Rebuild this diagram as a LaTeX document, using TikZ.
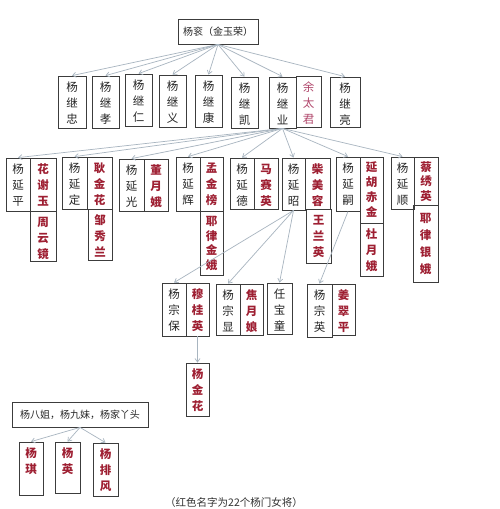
\documentclass[tikz,border=0pt]{standalone}
\usepackage{fontspec}
\setmainfont{Noto Sans CJK SC}
\usetikzlibrary{arrows.meta}
\definecolor{redn}{HTML}{9E1F32}
\definecolor{redl}{HTML}{B0456A}
\definecolor{linec}{HTML}{A8B5C0}
\definecolor{boxc}{HTML}{3C3C3C}
\newcommand{\vtxt}[5]{\parbox[c][#1pt][t]{#2pt}{\centering\baselineskip=#4pt\rule{0pt}{#5pt}#3\par}}
\newcommand{\vb}[7]{\node[bx,#7] (#1) at (#2,#3) {\vtxt{#5}{#4}{#6}{16}{15}};}
\newcommand{\vbt}[9]{\node[bx,#7] (#1) at (#2,#3) {\vtxt{#5}{#4}{#6}{#8}{#9}};}
\begin{document}
\begin{tikzpicture}[x=1pt,y=-1pt,
 bx/.style={draw=boxc,line width=0.8pt,inner sep=0pt,font=\fontsize{11.5}{16}\selectfont},
 blk/.style={text=black!85},
 rd/.style={text=redn,font=\fontsize{11.5}{16}\selectfont\bfseries},
 rdl/.style={text=redl},
 arr/.style={draw=linec,line width=0.7pt,-{Straight Barb[length=3.5pt,width=5pt]}}]
\useasboundingbox[fill=white] (0,0) rectangle (500,509);
% root
\node[bx,blk,minimum width=80pt,minimum height=25pt,font=\fontsize{10}{12}\selectfont] (root) at (218,31.5) {杨衮（金玉荣）};
% row 1
\vb{jz}{72}{102}{28}{52}{杨\\继\\忠}{blk}
\vb{jx}{105.5}{102}{27}{52}{杨\\继\\孝}{blk}
\vb{jr}{138.5}{100}{27}{52}{杨\\继\\仁}{blk}
\vb{jy}{172.5}{101}{27}{52}{杨\\继\\义}{blk}
\vb{jk}{208.5}{101}{27}{52}{杨\\继\\康}{blk}
\vb{jkai}{244.5}{102.5}{27}{51}{杨\\继\\凯}{blk}
\vb{jye}{282.5}{102.5}{27}{51}{杨\\继\\业}{blk}
\vb{she}{308.5}{101.5}{25}{51}{余\\太\\君}{rdl}
\vb{jl}{345}{102}{30}{50}{杨\\继\\亮}{blk}
% row 2
\vb{yp}{18}{184.5}{24}{53}{杨\\延\\平}{blk}
\vb{hxy}{43}{184.5}{26}{53}{花\\谢\\玉}{rd}
\vb{zyj}{43}{236}{26}{50}{周\\云\\镜}{rd}
\vb{yd}{74.5}{183}{25}{52}{杨\\延\\定}{blk}
\vb{gjh}{99.5}{183}{25}{52}{耿\\金\\花}{rd}
\vb{zxl}{100}{234.5}{24}{51}{邹\\秀\\兰}{rd}
\vb{yg}{131.5}{185}{25}{52}{杨\\延\\光}{blk}
\vb{dye}{156}{185}{24}{52}{董\\月\\娥}{rd}
\vb{yh}{188}{184}{24}{54}{杨\\延\\辉}{blk}
\vb{mjb}{211.5}{184}{23}{54}{孟\\金\\榜}{rd}
\vbt{ylje}{211.5}{243}{23}{64}{耶\\律\\金\\娥}{rd}{14.5}{14.5}
\vb{yde}{242}{183.5}{24}{51}{杨\\延\\德}{blk}
\vb{msy}{266}{183.5}{24}{51}{马\\赛\\英}{rd}
\vb{yz}{293.5}{184}{23}{52}{杨\\延\\昭}{blk}
\vb{cmr}{317.5}{183.5}{25}{51}{柴\\美\\容}{rd}
\vb{wly}{318.5}{236}{25}{54}{王\\兰\\英}{rd}
\vb{ys}{348}{184}{24}{54}{杨\\延\\嗣}{blk}
\vbt{yhcj}{371.5}{190}{23}{66}{延\\胡\\赤\\金}{rd}{15}{14.5}
\vb{dyue}{371.5}{249.5}{23}{53}{杜\\月\\娥}{rd}
\vb{ysh}{402.5}{183}{23}{52}{杨\\延\\顺}{blk}
\vbt{cxy}{426}{181}{24}{48}{蔡\\绣\\英}{rd}{14.5}{14}
\vbt{ylye}{425.5}{243.5}{25}{77}{耶\\律\\银\\娥}{rd}{17}{17}
% row 3
\vb{zb}{174}{309.5}{24}{53}{杨\\宗\\保}{blk}
\vb{mgy}{197.5}{309.5}{23}{53}{穆\\桂\\英}{rd}
\vb{jh}{197.5}{389.5}{23}{53}{杨\\金\\花}{rd}
\vb{zx}{228}{309.5}{24}{51}{杨\\宗\\显}{blk}
\vb{jyn}{251.5}{309.5}{23}{51}{焦\\月\\娘}{rd}
\vb{rbt}{279.5}{308.5}{25}{51}{任\\宝\\童}{blk}
\vb{zy}{319.5}{310.5}{25}{53}{杨\\宗\\英}{blk}
\vb{jcp}{343.5}{309.5}{23}{51}{姜\\翠\\平}{rd}
% bottom group
\node[bx,blk,minimum width=136pt,minimum height=25pt,font=\fontsize{10}{12}\selectfont] (bj) at (80,414.5) {杨八姐，杨九妹，杨家丫头};
\vb{yq}{31}{468.5}{24}{53}{杨\\琪}{rd}
\vb{yy}{67.5}{467.5}{25}{51}{杨\\英}{rd}
\vb{ypf}{105.5}{469.5}{25}{53}{杨\\排\\风}{rd}
% caption
\node[anchor=base,inner sep=0pt,font=\fontsize{10.5}{13}\selectfont,text=black!80] (cap) at (234,506) {（红色名字为22个杨门女将）};
% connectors
\foreach \t in {jz,jx,jr,jy,jk,jkai,jye,jl} \draw[arr] (root.south) -- (\t.north);
\foreach \t in {yp,yd,yg,yh,yde,yz,ys,ysh} \draw[arr] (jye.south) -- (\t.north);
\foreach \t in {zb,zx,rbt} \draw[arr] (yz.south) -- (\t.north);
\draw[arr] (ys.south) -- (zy.north);
\draw[arr] (mgy.south) -- (jh.north);
\foreach \t in {yq,yy,ypf} \draw[arr] (bj.south) -- (\t.north);
\end{tikzpicture}
\end{document}
